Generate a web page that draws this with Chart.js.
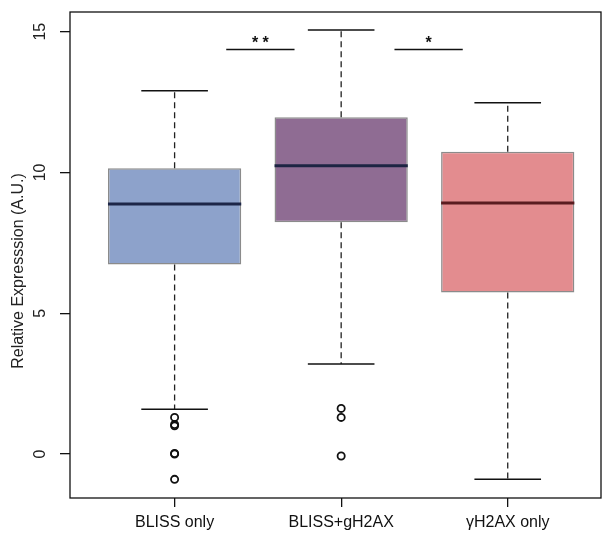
<!DOCTYPE html>
<html>
<head>
<meta charset="utf-8">
<script src="https://cdn.jsdelivr.net/npm/chart.js@4/dist/chart.umd.min.js"></script>
<style>
  html, body { margin: 0; padding: 0; background: #fff; }
  #wrap { width: 607px; height: 535px; }
</style>
</head>
<body>
<div id="wrap"><canvas id="c" width="607" height="535"></canvas></div>
<script>
// Groups and their box-plot summaries
const categories = ['BLISS only', 'BLISS+gH2AX', 'γH2AX only'];
const positions = [1, 2, 3];
const whiskerLow = [1.59, 3.20, -0.90];
const q1 = [6.73, 8.23, 5.74];
const median = [8.88, 10.24, 8.92];
const q3 = [10.15, 11.96, 10.74];
const whiskerHigh = [12.90, 15.06, 12.48];
const outliers = [
  [1.30, 1.05, 1.00, 0.02, 0.00, -0.90],
  [1.62, 1.30, -0.07],
  []
];
const yTicks = [0, 5, 10, 15];

// Significance brackets between neighbouring groups
const sigLabels = ['* *', '*'];
const sigFrom = [1.31, 2.32];
const sigTo = [1.72, 2.73];
const sigLevel = [14.37, 14.37];

const fillColors = ['#8da2cb', '#8f6c93', '#e38c8f'];
const medianColors = ['#1d2648', '#1d2443', '#5a1c20'];

const boxWidth = 0.8;   // R's default boxwex
const capHalf = 0.2;    // staple half-width

const datasets = [];

// boxes (interquartile range) as floating bars
datasets.push({
  type: 'bar',
  data: positions.map((p, i) => ({ x: p, y: [q1[i], q3[i]] })),
  backgroundColor: fillColors,
  borderColor: '#8b8b8b',
  borderWidth: 1.5,
  borderSkipped: false,
  barPercentage: boxWidth,
  categoryPercentage: 1.0,
  order: 5
});

positions.forEach((p, i) => {
  // dashed whiskers
  datasets.push({
    type: 'line',
    data: [{ x: p, y: q3[i] }, { x: p, y: whiskerHigh[i] }],
    borderColor: '#222', borderWidth: 1.3, borderDash: [6, 4],
    pointRadius: 0, fill: false, order: 4
  });
  datasets.push({
    type: 'line',
    data: [{ x: p, y: q1[i] }, { x: p, y: whiskerLow[i] }],
    borderColor: '#222', borderWidth: 1.3, borderDash: [6, 4],
    pointRadius: 0, fill: false, order: 4
  });
  // staples
  [whiskerHigh[i], whiskerLow[i]].forEach(v => {
    datasets.push({
      type: 'line',
      data: [{ x: p - capHalf, y: v }, { x: p + capHalf, y: v }],
      borderColor: '#111', borderWidth: 1.5,
      pointRadius: 0, fill: false, order: 3
    });
  });
  // median
  datasets.push({
    type: 'line',
    data: [{ x: p - boxWidth / 2, y: median[i] }, { x: p + boxWidth / 2, y: median[i] }],
    borderColor: medianColors[i], borderWidth: 3,
    pointRadius: 0, fill: false, order: 1
  });
  // outliers
  if (outliers[i].length) {
    datasets.push({
      type: 'scatter',
      data: outliers[i].map(v => ({ x: p, y: v })),
      pointStyle: 'circle', pointRadius: 3.6, pointBorderWidth: 1.8,
      pointBackgroundColor: 'rgba(0,0,0,0)', pointBorderColor: '#111',
      order: 0
    });
  }
});

// significance bars
sigLabels.forEach((s, k) => {
  datasets.push({
    type: 'line',
    data: [{ x: sigFrom[k], y: sigLevel[k] }, { x: sigTo[k], y: sigLevel[k] }],
    borderColor: '#111', borderWidth: 1.5,
    pointRadius: 0, fill: false, order: 0
  });
});

const FONT = '"Liberation Sans", Arial, Helvetica, sans-serif';

const textPlugin = {
  id: 'frameAndText',
  afterDraw(chart) {
    const { ctx, chartArea: a, scales: { x, y } } = chart;
    ctx.save();
    // plot frame
    ctx.strokeStyle = '#111';
    ctx.lineWidth = 1.3;
    ctx.strokeRect(a.left, a.top, a.right - a.left, a.bottom - a.top);

    // rotated y tick labels
    ctx.fillStyle = '#222';
    ctx.font = '16px ' + FONT;
    ctx.textAlign = 'center';
    ctx.textBaseline = 'middle';
    yTicks.forEach(t => {
      ctx.save();
      ctx.translate(41, y.getPixelForValue(t));
      ctx.rotate(-Math.PI / 2);
      ctx.fillText(String(t), 0, 0);
      ctx.restore();
    });

    // axis title
    ctx.save();
    ctx.translate(19, (a.top + a.bottom) / 2 + 16);
    ctx.rotate(-Math.PI / 2);
    ctx.font = '16px ' + FONT;
    ctx.fillText('Relative Expresssion (A.U.)', 0, 0);
    ctx.restore();

    // significance stars
    ctx.font = 'bold 16px ' + FONT;
    ctx.fillStyle = '#111';
    ctx.textBaseline = 'alphabetic';
    sigLabels.forEach((s, k) => {
      const cx = x.getPixelForValue((sigFrom[k] + sigTo[k]) / 2);
      ctx.fillText(s, cx, y.getPixelForValue(sigLevel[k]) - 1);
    });
    ctx.restore();
  }
};

new Chart(document.getElementById('c'), {
  type: 'bar',
  data: { datasets },
  options: {
    responsive: false,
    animation: false,
    events: [],
    layout: { padding: { top: 12, right: 6, left: 0, bottom: 0 } },
    plugins: { legend: { display: false }, tooltip: { enabled: false } },
    scales: {
      x: {
        type: 'linear',
        min: 0.372,
        max: 3.56,
        offset: false,
        afterBuildTicks(scale) { scale.ticks = positions.map(v => ({ value: v })); },
        afterFit(scale) { scale.height = 37; },
        grid: { offset: false, drawOnChartArea: false, drawTicks: true, tickLength: 9, color: '#111', lineWidth: 1.3 },
        border: { display: false },
        ticks: {
          autoSkip: false, maxRotation: 0, minRotation: 0,
          padding: 6,
          color: '#111',
          font: { family: FONT, size: 16 },
          callback: (v) => categories[positions.indexOf(v)] ?? ''
        }
      },
      y: {
        type: 'linear',
        min: -1.563,
        max: 15.70,
        afterBuildTicks(scale) { scale.ticks = yTicks.map(v => ({ value: v })); },
        afterFit(scale) { scale.width = 70; },
        grid: { drawOnChartArea: false, drawTicks: true, tickLength: 10, color: '#111', lineWidth: 1.3 },
        border: { display: false },
        ticks: { display: false }
      }
    }
  },
  plugins: [textPlugin]
});
</script>
</body>
</html>
